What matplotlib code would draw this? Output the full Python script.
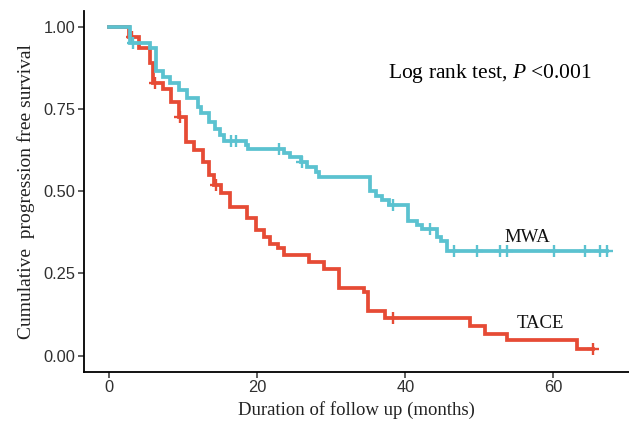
import numpy as np
import matplotlib
matplotlib.use("Agg")
import matplotlib.pyplot as plt

# ---- data ----
mwa_times = [0, 2.9, 5.6, 6.3, 7.3, 8.3, 9.4, 10.6, 12.0, 12.4, 13.5, 14.3, 15.0, 15.5,
             18.5, 18.8, 23.6, 24.5, 25.9, 26.8, 27.9, 28.3, 35.3, 36.0, 36.9, 37.8,
             40.4, 41.6, 42.3, 44.3, 44.8, 45.6, 67.2]
mwa_surv = [1.0, 0.95, 0.935, 0.865, 0.848, 0.83, 0.808, 0.785, 0.757, 0.738, 0.71, 0.69, 0.672, 0.652,
            0.64, 0.628, 0.616, 0.605, 0.588, 0.575, 0.558, 0.543, 0.50, 0.487, 0.472, 0.457,
            0.41, 0.398, 0.385, 0.36, 0.35, 0.317, 0.317]
mwa_censor = [3.2, 16.5, 17.2, 23.0, 26.0, 38.4, 43.3, 46.6, 49.7, 52.8, 53.8, 60.1, 64.2, 66.3, 67.2]

tace_times = [0, 2.7, 4.0, 5.6, 6.0, 7.3, 8.4, 9.4, 10.4, 11.5, 12.7, 13.5, 14.2, 15.1, 16.4,
              18.7, 19.8, 20.9, 21.8, 22.8, 23.6, 27.0, 29.0, 31.0, 34.4, 35.0, 37.3,
              48.8, 50.8, 53.8, 63.2, 65.4]
tace_surv = [1.0, 0.97, 0.935, 0.89, 0.83, 0.81, 0.773, 0.725, 0.65, 0.625, 0.588, 0.549, 0.518, 0.494, 0.451,
             0.418, 0.381, 0.36, 0.341, 0.326, 0.305, 0.284, 0.265, 0.207, 0.192, 0.137, 0.113,
             0.091, 0.067, 0.046, 0.021, 0.021]
tace_censor = [3.1, 6.2, 9.6, 14.4, 38.4, 65.4]

x_ticks = [0, 20, 40, 60]
y_ticks = [0.00, 0.25, 0.50, 0.75, 1.00]
y_ticklabels = ["0.00", "0.25", "0.50", "0.75", "1.00"]

red = "#E64B35"
teal = "#5BC2D0"

plt.rcParams['mathtext.fontset'] = 'custom'
plt.rcParams['mathtext.rm'] = 'Liberation Serif'
plt.rcParams['mathtext.it'] = 'Liberation Serif:italic'

fig = plt.figure(figsize=(6.29, 4.28), dpi=100)
ax = fig.add_axes([84/629, 1-372/428, 1-84/629, (372-10.6)/428])

def surv_at(times, surv, t):
    i = np.searchsorted(times, t, side='right') - 1
    return np.asarray(surv)[i]

for times, surv, cens, col, z in [(tace_times, tace_surv, tace_censor, red, 2),
                                  (mwa_times, mwa_surv, mwa_censor, teal, 3)]:
    ax.step(times, surv, where='post', color=col, lw=2.7, zorder=z, solid_joinstyle='miter')
    cy = [surv_at(times, surv, t) for t in cens]
    ax.plot(cens, cy, linestyle='none', marker='+', ms=9, mew=1.7, color=col, zorder=z)

ax.set_xlim(-3.36, 70.2)
ax.set_ylim(-0.05, 1.05)
ax.set_xticks(x_ticks)
ax.set_yticks(y_ticks)
ax.set_yticklabels(y_ticklabels)
for s in ['top', 'right']:
    ax.spines[s].set_visible(False)
for s in ['left', 'bottom']:
    ax.spines[s].set_linewidth(1.3)
    ax.spines[s].set_color('black')
ax.tick_params(axis='both', direction='out', length=4, width=1.1, color='#333333',
               labelsize=11.8, labelcolor='#303030', pad=2)
for lab in ax.get_xticklabels() + ax.get_yticklabels():
    lab.set_fontfamily('Liberation Sans')

ax.set_xlabel("Duration of follow up (months)", fontfamily='Liberation Serif', fontsize=13.5, color='#222222', labelpad=4)
ax.set_ylabel("Cumulative  progression free survival", fontfamily='Liberation Serif', fontsize=14, color='#222222', labelpad=6)

ax.text(37.7, 0.86, "Log rank test, $P$ <0.001", fontfamily='Liberation Serif', fontsize=15.5,
        ha='left', va='center', color='black')
ax.text(56.5, 0.36, "MWA", fontfamily='Liberation Serif', fontsize=13.5, ha='center', va='center', color='#111111')
ax.text(58.3, 0.098, "TACE", fontfamily='Liberation Serif', fontsize=13.5, ha='center', va='center', color='#111111')

fig.savefig("out.png", dpi=100)
